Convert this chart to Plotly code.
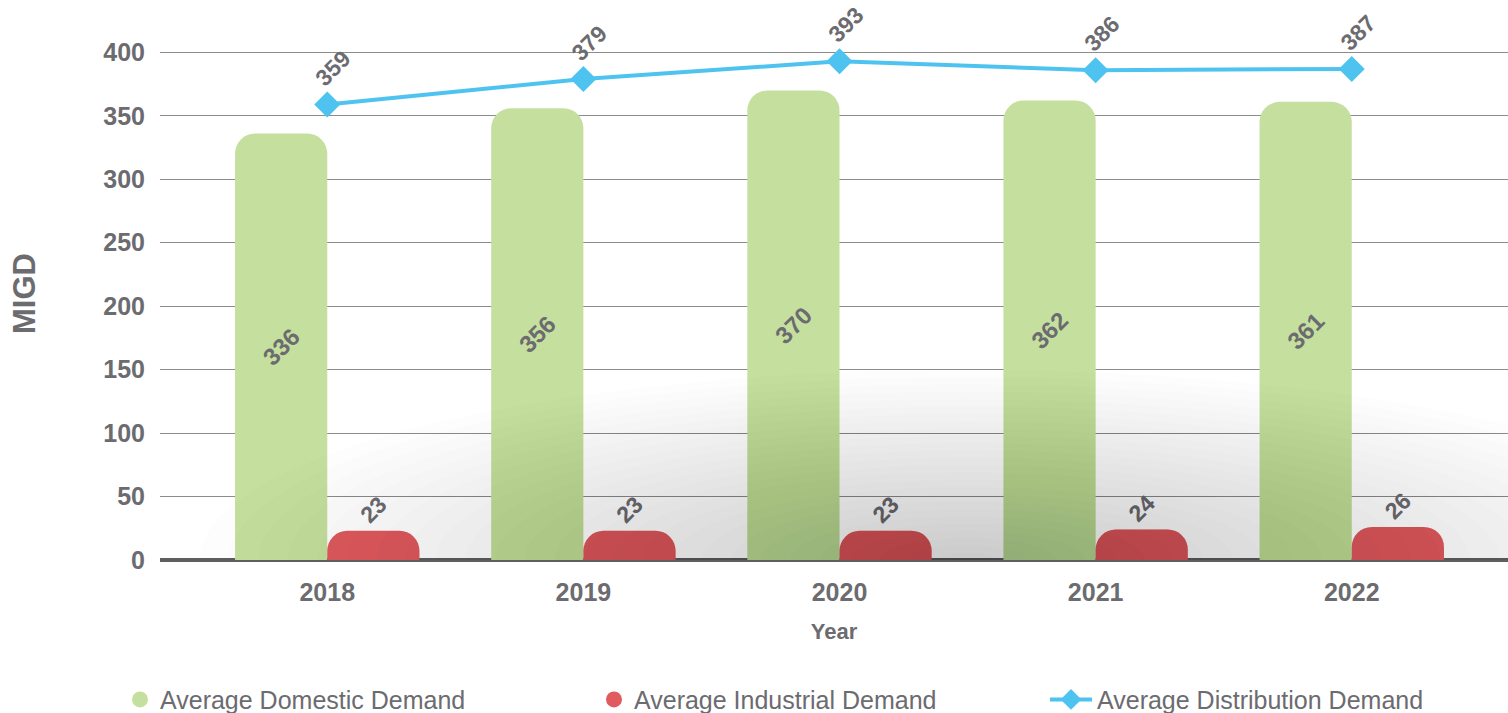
import plotly.graph_objects as go

# Water demand by year (MIGD)
years = ["2018", "2019", "2020", "2021", "2022"]
domestic = [336, 356, 370, 362, 361]
industrial = [23, 23, 23, 24, 26]
distribution = [359, 379, 393, 386, 387]
y_ticks = [0, 50, 100, 150, 200, 250, 300, 350, 400]

GREEN = "#c5e09e"
RED = "#e05a5e"
BLUE = "#4ec3f0"
TEXT = "#6b6b70"
FONT = "Liberation Sans, Arial, sans-serif"

fig = go.Figure()

fig.add_trace(go.Bar(
    x=years, y=domestic, name="Average Domestic Demand",
    marker=dict(color=GREEN, line=dict(width=0)),
    text=domestic, textposition="inside", insidetextanchor="middle",
    textangle=-45, constraintext="none",
    textfont=dict(family=FONT, size=24, color=TEXT, weight="bold"),
    showlegend=False, hoverinfo="skip",
))
fig.add_trace(go.Bar(
    x=years, y=industrial, name="Average Industrial Demand",
    marker=dict(color=RED, line=dict(width=0)),
    text=industrial, textposition="outside",
    textangle=-45, constraintext="none", cliponaxis=False,
    textfont=dict(family=FONT, size=23, color=TEXT, weight="bold"),
    showlegend=False, hoverinfo="skip",
))
fig.add_trace(go.Scatter(
    x=years, y=distribution, name="Average Distribution Demand",
    mode="lines+markers",
    line=dict(color=BLUE, width=4),
    marker=dict(symbol="diamond", size=20, color=BLUE),
    showlegend=False, cliponaxis=False, hoverinfo="skip",
))

# legend entries, one legend box per series
fig.add_trace(go.Scatter(x=[None], y=[None], mode="markers", name="Average Domestic Demand",
                         marker=dict(symbol="circle", size=20, color=GREEN), legend="legend"))
fig.add_trace(go.Scatter(x=[None], y=[None], mode="markers", name="Average Industrial Demand",
                         marker=dict(symbol="circle", size=20, color=RED), legend="legend2"))
fig.add_trace(go.Scatter(x=[None], y=[None], mode="lines+markers", name="Average Distribution Demand",
                         line=dict(color=BLUE, width=4),
                         marker=dict(symbol="diamond", size=18, color=BLUE), legend="legend3"))

# rotated value labels above the line points
line_labels = [
    dict(
        xref="x", yref="y", x=i, y=v, text="<b>%d</b>" % v,
        textangle=-45, showarrow=False, xshift=6, yshift=36,
        font=dict(family=FONT, size=23, color=TEXT),
    )
    for i, v in enumerate(distribution)
]

# soft floor shadow at the foot of the bars
shadow = []
n = 26
for i in range(n):
    f = 1 - i / n
    shadow.append(dict(
        type="circle", xref="x", yref="y",
        x0=2.5 - 3.0 * f, x1=2.5 + 3.0 * f,
        y0=-150 * f, y1=150 * f,
        fillcolor="rgba(0,0,0,0.0062)", line=dict(width=0), layer="above",
    ))

legend_common = dict(
    orientation="h", yanchor="middle", y=-0.262, xanchor="left",
    font=dict(family=FONT, size=25, color=TEXT), bgcolor="rgba(0,0,0,0)",
)
fig.update_layout(
    width=1508, height=713,
    margin=dict(l=160, r=0, t=27, b=153, autoexpand=False),
    paper_bgcolor="white", plot_bgcolor="white",
    barmode="group", bargap=0.28, bargroupgap=0, barcornerradius=20,
    font=dict(family=FONT, color=TEXT),
    annotations=line_labels,
    shapes=shadow,
    legend=dict(x=(120 - 160) / 1348, **legend_common),
    legend2=dict(x=(594 - 160) / 1348, **legend_common),
    legend3=dict(x=(1045 - 160) / 1348, itemwidth=42, **legend_common),
    xaxis=dict(
        type="category", range=[-0.653, 4.61],
        showgrid=False, showline=False, zeroline=False,
        tickfont=dict(family=FONT, size=25, color=TEXT, weight="bold"),
        ticks="", ticklabelstandoff=15,
        title=dict(text="Year", standoff=18,
                   font=dict(family=FONT, size=22, color=TEXT, weight="bold")),
    ),
    yaxis=dict(
        range=[0, 420], tickvals=y_ticks,
        showgrid=True, gridcolor="#8c8c8c", gridwidth=1,
        zeroline=True, zerolinecolor="#5f5f63", zerolinewidth=4,
        showline=False, ticks="", ticklabelstandoff=14,
        tickfont=dict(family=FONT, size=25, color=TEXT, weight="bold"),
        title=dict(text="MIGD", standoff=58,
                   font=dict(family=FONT, size=31, color=TEXT, weight="bold")),
    ),
)

fig.write_html("out.html")
